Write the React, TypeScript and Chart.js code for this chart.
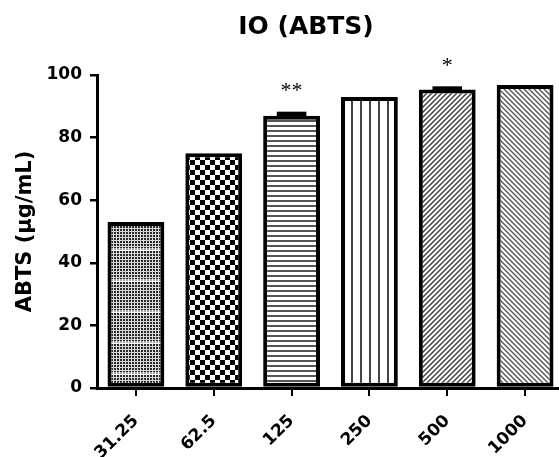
import React, { useEffect, useRef } from "react";
import { Chart, registerables } from "chart.js";

Chart.register(...registerables);

const categories = ["31.25", "62.5", "125", "250", "500", "1000"];
const values = [53, 75, 87, 93, 95.4, 96.8];
const errors = [0, 0, 0.8, 0, 0.5, 0];
const significance = ["", "", "**", "", "*", ""];
const yTicks = [0, 20, 40, 60, 80, 100];
const chartTitle = "IO (ABTS)";
const yAxisTitle = "ABTS (µg/mL)";

const FONT = "DejaVu Sans";

function tile(
  main: CanvasRenderingContext2D,
  w: number,
  h: number,
  draw: (c: CanvasRenderingContext2D) => void
): CanvasPattern {
  const c = document.createElement("canvas");
  c.width = w;
  c.height = h;
  const t = c.getContext("2d")!;
  t.fillStyle = "#fff";
  t.fillRect(0, 0, w, h);
  draw(t);
  return main.createPattern(c, "repeat")!;
}

function makePatterns(ctx: CanvasRenderingContext2D): CanvasPattern[] {
  // fine dotted grid with lighter bands
  const p1 = tile(ctx, 3, 31, (t) => {
    for (let y = 0; y < 31; y++) {
      for (let x = 0; x < 3; x++) {
        const dark = x % 3 !== 2 && y % 3 !== 2;
        const band = y < 3;
        if (dark) {
          t.fillStyle = band ? "#aaa" : "#2a2a2a";
          t.fillRect(x, y, 1, 1);
        } else {
          t.fillStyle = band ? "#fff" : "#d8d8d8";
          t.fillRect(x, y, 1, 1);
        }
      }
    }
  });
  // checkerboard
  const p2 = tile(ctx, 10, 10, (t) => {
    t.fillStyle = "#000";
    t.fillRect(0, 0, 5, 5);
    t.fillRect(5, 5, 5, 5);
  });
  // horizontal stripes
  const p3 = tile(ctx, 1, 5, (t) => {
    t.fillStyle = "#555";
    t.fillRect(0, 0, 1, 2);
  });
  // vertical lines
  const p4 = tile(ctx, 9, 1, (t) => {
    t.fillStyle = "#444";
    t.fillRect(0, 0, 2, 1);
  });
  // forward diagonal
  const p5 = tile(ctx, 5, 5, (t) => {
    t.strokeStyle = "#444";
    t.lineWidth = 1.5;
    t.beginPath();
    t.moveTo(-1, 6);
    t.lineTo(6, -1);
    t.moveTo(-2, 2);
    t.lineTo(2, -2);
    t.moveTo(3, 7);
    t.lineTo(7, 3);
    t.stroke();
  });
  // back diagonal
  const p6 = tile(ctx, 5, 5, (t) => {
    t.strokeStyle = "#555";
    t.lineWidth = 1.4;
    t.beginPath();
    t.moveTo(-1, -1);
    t.lineTo(6, 6);
    t.moveTo(-2, 3);
    t.lineTo(2, 7);
    t.moveTo(3, -2);
    t.lineTo(7, 2);
    t.stroke();
  });
  return [p1, p2, p3, p4, p5, p6];
}

const errorAndStars = {
  id: "errorAndStars",
  afterDatasetsDraw(chart: any) {
    const ctx = chart.ctx as CanvasRenderingContext2D;
    const meta = chart.getDatasetMeta(0);
    const ys = chart.scales.y;
    ctx.save();
    meta.data.forEach((bar: any, i: number) => {
      const err = errors[i];
      const yTop = ys.getPixelForValue(values[i] + err);
      if (err > 0) {
        const w = bar.width * 0.52;
        ctx.fillStyle = "#000";
        ctx.fillRect(bar.x - w / 2, yTop - 1.5, w, bar.y - yTop + 3);
      }
      if (significance[i]) {
        ctx.fillStyle = "#000";
        ctx.font = '22px "Liberation Serif"';
        ctx.textAlign = "center";
        ctx.textBaseline = "middle";
        ctx.fillText(significance[i], bar.x, yTop - 22);
      }
    });
    ctx.restore();
  },
};

const titleDrawer = {
  id: "titleDrawer",
  afterDraw(chart: any) {
    const ctx = chart.ctx as CanvasRenderingContext2D;
    ctx.save();
    ctx.fillStyle = "#000";
    ctx.font = `bold 25px "${FONT}"`;
    ctx.textAlign = "center";
    ctx.textBaseline = "middle";
    ctx.fillText(chartTitle, 306, 27);
    ctx.restore();
  },
};

export default function App() {
  const ref = useRef<HTMLCanvasElement>(null);
  useEffect(() => {
    const canvas = ref.current!;
    const ctx = canvas.getContext("2d")!;
    const patterns = makePatterns(ctx);
    const chart = new Chart(canvas, {
      type: "bar",
      data: {
        labels: categories,
        datasets: [
          {
            data: values,
            backgroundColor: patterns as any,
            borderColor: "#000",
            borderWidth: 4,
            borderSkipped: false,
            categoryPercentage: 1,
            barPercentage: 0.73,
          },
        ],
      },
      options: {
        responsive: false,
        animation: false,
        devicePixelRatio: 1,
        layout: { padding: { left: 0, right: 48, top: 75, bottom: 0 } },
        plugins: {
          legend: { display: false },
          tooltip: { enabled: false },
          title: { display: false },
        },
        scales: {
          x: {
            type: "category",
            grid: {
              display: true,
              drawOnChartArea: false,
              offset: false,
              color: "#000",
              lineWidth: 2,
              tickLength: 8,
            },
            border: { display: true, color: "#000", width: 3 },
            ticks: {
              color: "#000",
              font: { family: FONT, weight: "bold", size: 17 },
              minRotation: 45,
              maxRotation: 45,
              padding: 15,
              autoSkip: false,
            },
            afterFit: (s: any) => {
              s.height = 69;
            },
          },
          y: {
            min: 0,
            max: 100,
            afterBuildTicks: (s: any) => {
              s.ticks = yTicks.map((v) => ({ value: v }));
            },
            ticks: {
              color: "#000",
              font: { family: FONT, weight: "bold", size: 17 },
              padding: 8,
            },
            grid: {
              drawOnChartArea: false,
              color: "#000",
              lineWidth: 2.5,
              tickLength: 7,
            },
            border: { display: true, color: "#000", width: 3 },
            title: {
              display: true,
              text: yAxisTitle,
              color: "#000",
              font: { family: FONT, weight: "bold", size: 21, lineHeight: 1.2 },
              padding: { top: 13, bottom: 0 },
            },
            afterFit: (s: any) => {
              s.width = 97;
            },
          },
        },
      },
      plugins: [errorAndStars, titleDrawer],
    });
    return () => chart.destroy();
  }, []);

  return (
    <div
      style={{
        position: "fixed",
        left: 0,
        top: 0,
        width: 559,
        height: 457,
        overflow: "hidden",
        background: "#fff",
      }}
    >
      <canvas ref={ref} width={612} height={457} style={{ display: "block", width: 612, height: 457 }} />
    </div>
  );
}
